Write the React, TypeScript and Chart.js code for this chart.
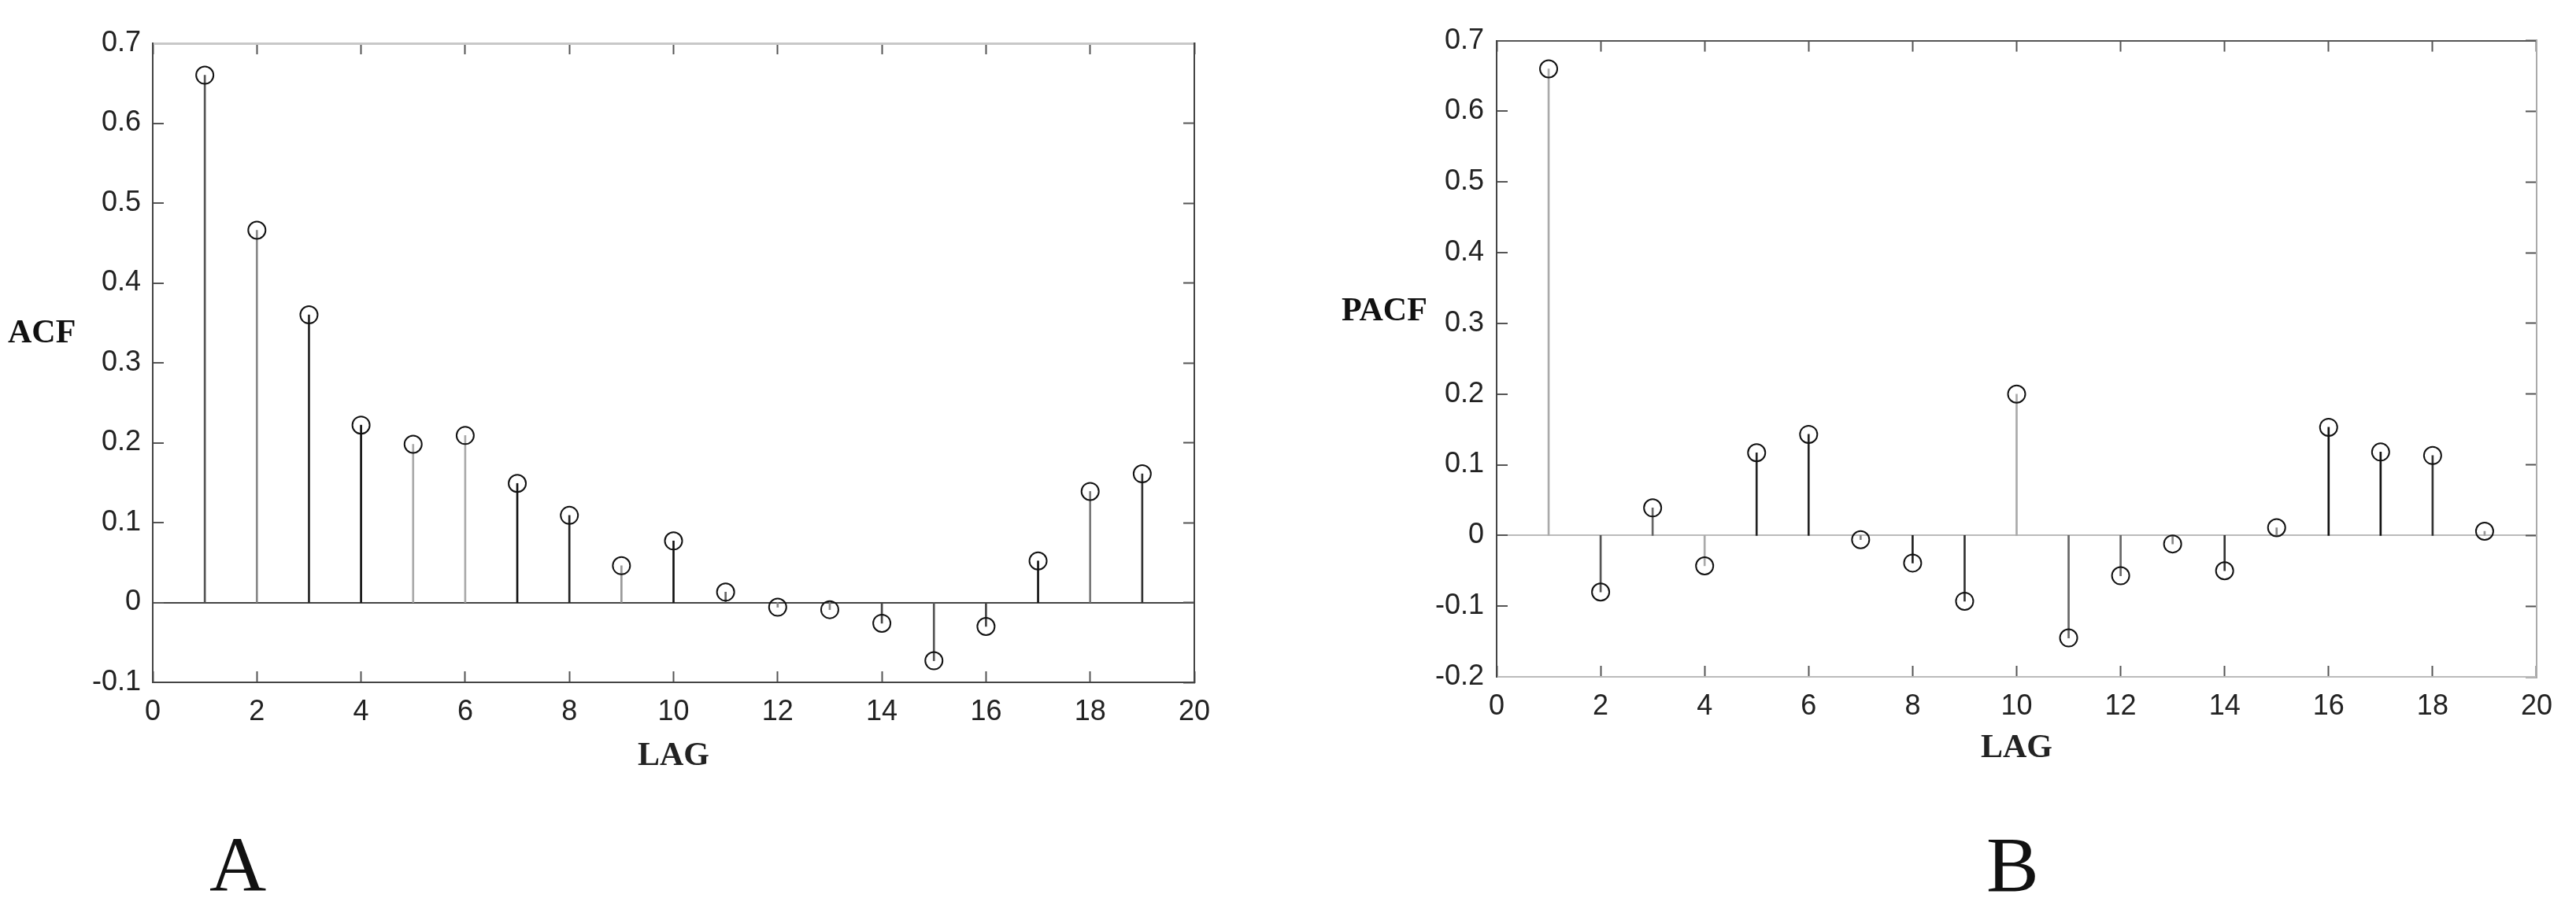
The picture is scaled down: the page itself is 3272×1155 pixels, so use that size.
import React, { useEffect, useRef } from "react";
import { Chart, registerables } from "chart.js";

Chart.register(...registerables);

// ---- data ----
const lags = [1, 2, 3, 4, 5, 6, 7, 8, 9, 10, 11, 12, 13, 14, 15, 16, 17, 18, 19];
const acfValues = [0.66, 0.466, 0.36, 0.222, 0.198, 0.209, 0.149, 0.109, 0.046, 0.077, 0.013, -0.006, -0.009, -0.026, -0.073, -0.03, 0.052, 0.139, 0.161];
const pacfValues = [0.66, -0.08, 0.039, -0.043, 0.117, 0.143, -0.006, -0.039, -0.093, 0.2, -0.145, -0.057, -0.012, -0.05, 0.011, 0.153, 0.118, 0.113, 0.006];
const lagAxis = { min: 0, max: 20, step: 2 };
const acfAxis = { min: -0.1, max: 0.7, step: 0.1 };
const pacfAxis = { min: -0.2, max: 0.7, step: 0.1 };
const panelLetters = ["A", "B"];
const axisTitles = { acf: "ACF", pacf: "PACF", lag: "LAG" };

// ---- styles ----
const acfStemColors = ["#555", "#888", "#222", "#111", "#aaa", "#aaa", "#111", "#222", "#999", "#111", "#666", "#888", "#888", "#444", "#555", "#444", "#111", "#777", "#333"];
const pacfStemColors = ["#aaa", "#555", "#666", "#aaa", "#222", "#222", "#888", "#222", "#333", "#aaa", "#666", "#666", "#888", "#333", "#888", "#111", "#111", "#333", "#999"];

const TICK_FONT = { family: "'Liberation Sans', Arial, sans-serif", size: 36 };
const SERIF = "'Liberation Serif', 'Times New Roman', serif";

type Geo = {
  w: number; h: number;
  padTop: number; padRight: number;
  yWidth: number; xHeight: number;
  yPad: number; xPad: number; titlePad: number;
  borders: { left: string; bottom: string; top: string; right: string };
  topWidth: number;
  zeroColor: string;
};

function fmtY(v: number) {
  const r = Math.round(v * 10) / 10;
  return r === 0 ? "0" : String(r);
}

function buildConfig(values: number[], stemColors: string[], yAxis: { min: number; max: number; step: number }, g: Geo): any {
  const pts = lags.map((l, i) => ({ x: l, y: values[i] }));
  const inwardGrid = () => ({
    display: true,
    drawOnChartArea: false,
    drawTicks: true,
    tickLength: -14,
    tickWidth: 2,
    tickColor: "#555",
    offset: false,
  });
  return {
    type: "bar",
    data: {
      datasets: [
        {
          type: "scatter",
          data: pts,
          pointStyle: "circle",
          pointRadius: 11,
          pointBorderWidth: 2,
          pointBorderColor: "#111",
          pointBackgroundColor: "rgba(255,255,255,0)",
          showLine: false,
          order: 0,
        },
        {
          type: "bar",
          data: pts,
          backgroundColor: stemColors,
          borderWidth: 0,
          barThickness: 2,
          grouped: false,
          order: 1,
        },
      ],
    },
    options: {
      animation: false,
      responsive: false,
      devicePixelRatio: 1,
      events: [],
      layout: { padding: { top: g.padTop, right: g.padRight, bottom: 0, left: 0 } },
      plugins: { legend: { display: false }, tooltip: { enabled: false } },
      scales: {
        x: {
          type: "linear",
          position: "bottom",
          min: lagAxis.min,
          max: lagAxis.max,
          offset: false,
          ticks: { stepSize: lagAxis.step, padding: g.xPad, font: TICK_FONT, color: "#222", maxRotation: 0, callback: (v: number) => String(v) },
          grid: inwardGrid(),
          border: { display: true, color: g.borders.bottom, width: 2 },
          title: { display: true, text: axisTitles.lag, font: { family: SERIF, size: 42, weight: "bold" }, color: "#222", padding: { top: 0, bottom: g.titlePad } },
          afterFit: (s: any) => { s.height = g.xHeight; },
        },
        x2: {
          type: "linear",
          position: "top",
          min: lagAxis.min,
          max: lagAxis.max,
          offset: false,
          ticks: { stepSize: lagAxis.step, display: false },
          grid: inwardGrid(),
          border: { display: true, color: g.borders.top, width: g.topWidth },
          afterFit: (s: any) => { s.height = 0; },
        },
        y: {
          type: "linear",
          position: "left",
          min: yAxis.min,
          max: yAxis.max,
          ticks: { stepSize: yAxis.step, padding: g.yPad, font: TICK_FONT, color: "#222", callback: (v: number) => fmtY(v) },
          grid: {
            display: true,
            drawOnChartArea: true,
            drawTicks: true,
            tickLength: -14,
            tickWidth: 2,
            tickColor: "#555",
            lineWidth: 2,
            color: (ctx: any) => (ctx.tick && Math.abs(ctx.tick.value) < 1e-9 ? g.zeroColor : "rgba(0,0,0,0)"),
          },
          border: { display: true, color: g.borders.left, width: 2 },
          afterFit: (s: any) => { s.width = g.yWidth; },
        },
        y2: {
          type: "linear",
          position: "right",
          min: yAxis.min,
          max: yAxis.max,
          ticks: { stepSize: yAxis.step, display: false },
          grid: inwardGrid(),
          border: { display: true, color: g.borders.right, width: 2 },
          afterFit: (s: any) => { s.width = 0; },
        },
      },
    },
  };
}

function StemChart(props: { values: number[]; colors: string[]; yAxis: any; geo: Geo; left: number }) {
  const ref = useRef<HTMLCanvasElement | null>(null);
  useEffect(() => {
    if (!ref.current) return;
    const chart = new Chart(ref.current, buildConfig(props.values, props.colors, props.yAxis, props.geo));
    return () => chart.destroy();
  }, []);
  const { w, h } = props.geo;
  return (
    <canvas
      ref={ref}
      width={w}
      height={h}
      style={{ position: "absolute", left: props.left, top: 0, width: w, height: h }}
    />
  );
}

const geoA: Geo = {
  w: 1640, h: 1000, padTop: 55, padRight: 123, yWidth: 194, xHeight: 133,
  yPad: 29, xPad: 30, titlePad: 14,
  borders: { left: "#444", bottom: "#444", top: "#c8c8c8", right: "#444" },
  topWidth: 3,
  zeroColor: "#444",
};
const geoB: Geo = {
  w: 1632, h: 1000, padTop: 44, padRight: 36, yWidth: 261, xHeight: 140,
  yPad: 30, xPad: 30, titlePad: 24,
  borders: { left: "#444", bottom: "#bbb", top: "#555", right: "#aaa" },
  topWidth: 2,
  zeroColor: "#bbb",
};

export default function App() {
  const label = (text: string, left: number, top: number, size: number, bold: boolean) => (
    <div
      style={{
        position: "absolute", left, top, fontFamily: SERIF, fontSize: size, lineHeight: 1,
        fontWeight: bold ? "bold" : "normal", color: "#111", whiteSpace: "nowrap",
      }}
    >
      {text}
    </div>
  );
  return (
    <div style={{ position: "absolute", left: 0, top: 0, width: 3272, height: 1155, background: "#fff", overflow: "hidden" }}>
      <StemChart values={acfValues} colors={acfStemColors} yAxis={acfAxis} geo={geoA} left={0} />
      <StemChart values={pacfValues} colors={pacfStemColors} yAxis={pacfAxis} geo={geoB} left={1640} />
      {label(axisTitles.acf, 10, 400, 42, true)}
      {label(axisTitles.pacf, 1704, 372, 42, true)}
      {label(panelLetters[0], 266, 1049, 100, false)}
      {label(panelLetters[1], 2523, 1049, 100, false)}
    </div>
  );
}
